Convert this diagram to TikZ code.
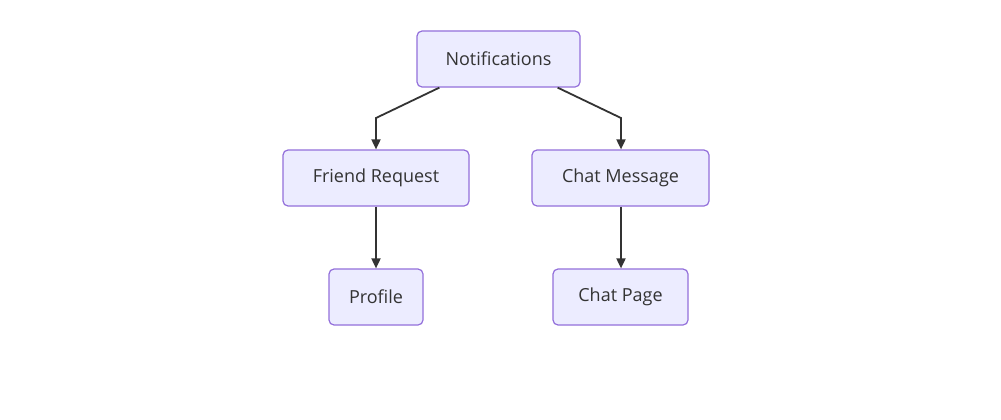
\documentclass[tikz,border=0pt]{standalone}
\usepackage{fontspec}
\setmainfont{Open Sans}
\usetikzlibrary{arrows.meta,calc}
\definecolor{nodefill}{HTML}{ECECFF}
\definecolor{nodeline}{HTML}{9370DB}
\definecolor{ink}{HTML}{333333}
\begin{document}
\begin{tikzpicture}[x=1pt,y=-1pt,
  box/.style={draw=nodeline,fill=nodefill,line width=1.2pt,rounded corners=5pt,
    minimum height=56pt,inner sep=0pt,text=ink,font=\fontsize{18}{21}\selectfont},
  link/.style={draw=ink,line width=1.8pt,-{Triangle[length=10pt,width=9pt]}}]
\useasboundingbox[fill=white] (0,0) rectangle (1001,420);
\node[box,minimum width=163pt] (notif) at (498.5,59) {\raisebox{-2pt}{Notifications}};
\node[box,minimum width=186pt] (friend) at (376,178) {\raisebox{-2pt}{Friend Request}};
\node[box,minimum width=177pt] (chatmsg) at (620.5,178) {\raisebox{-2pt}{Chat Message}};
\node[box,minimum width=94pt] (profile) at (376,297) {\raisebox{-2pt}{Profile}};
\node[box,minimum width=135pt] (chatpage) at (620.5,297) {\raisebox{-2pt}{Chat Page}};
\coordinate (lbend) at (376,118);
\coordinate (rbend) at (621,118);
\draw[link] ($(notif.south west)+(23,0)$) -- (lbend) -- (lbend |- friend.north);
\draw[link] ($(notif.south east)+(-23,0)$) -- (rbend) -- (rbend |- chatmsg.north);
\draw[link] (friend) -- (profile);
\draw[link] (rbend |- chatmsg.south) -- (rbend |- chatpage.north);
\end{tikzpicture}
\end{document}
